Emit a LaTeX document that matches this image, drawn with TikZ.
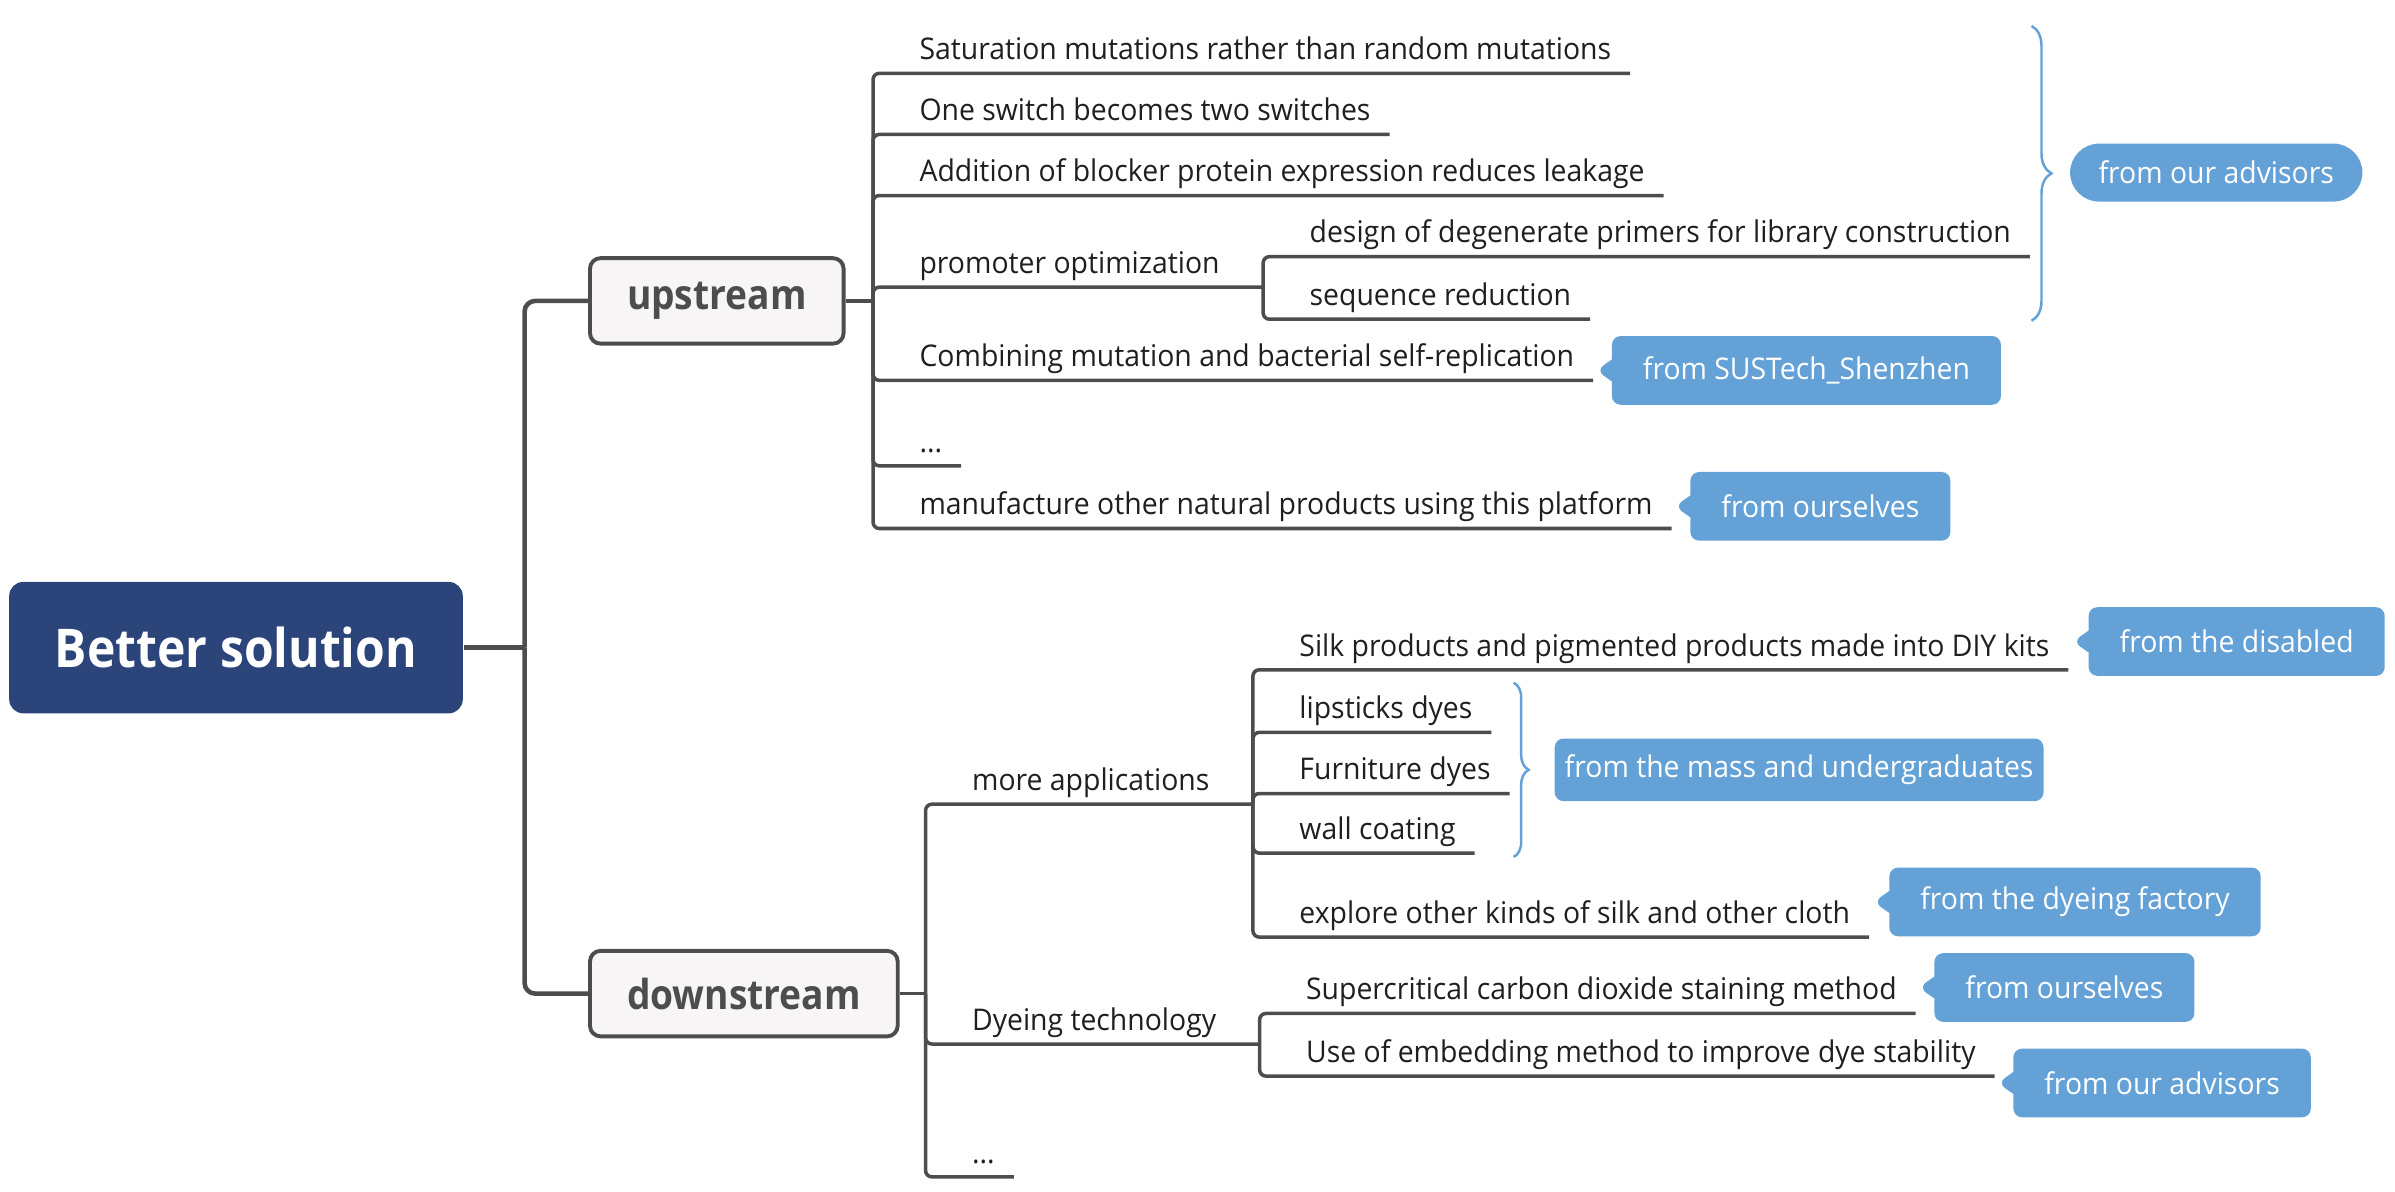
\documentclass[tikz,border=0pt]{standalone}
\usepackage{fontspec}
\setmainfont{Open Sans}[FakeStretch=0.95]
\newfontfamily\boxfont{Open Sans}[FakeStretch=0.9]
\usepackage{tikz}
\usetikzlibrary{positioning,calc,shapes.misc,shapes.callouts,decorations.pathreplacing}

\definecolor{rootblue}{HTML}{2B4479}
\definecolor{linegray}{HTML}{4D4D4D}
\definecolor{boxfill}{HTML}{F7F5F5}
\definecolor{tagblue}{HTML}{64A1D6}
\definecolor{leaftext}{HTML}{1F1F1F}

\tikzset{
  rootbox/.style={fill=rootblue, rounded corners=4pt, text=white, font=\boxfont\fontsize{15.2}{18}\selectfont\bfseries, minimum width=4.536cm, minimum height=1.314cm},
  mainbox/.style={fill=boxfill, draw=linegray, line width=1.1pt, rounded corners=3pt, text=linegray, font=\boxfont\fontsize{11.75}{13}\selectfont\bfseries, inner xsep=0.37cm, minimum height=0.855cm},
  leaf/.style={anchor=base west, inner sep=0pt, text=leaftext, font=\fontsize{8.5}{10}\selectfont},
  branch/.style={draw=linegray, line width=1pt, rounded corners=1.8pt},
  trunk/.style={draw=linegray, line width=1.3pt, rounded corners=3pt},
  tag/.style={rectangle callout, fill=tagblue, text=white, rounded corners=2.5pt, font=\fontsize{8.5}{10}\selectfont, minimum height=0.687cm, inner xsep=0.31cm, callout pointer width=0.22cm},
  pill/.style={rounded rectangle, fill=tagblue, text=white, font=\fontsize{8.5}{10}\selectfont, minimum height=0.58cm, inner xsep=0.26cm},
  flatbox/.style={fill=tagblue, text=white, rounded corners=2.5pt, font=\fontsize{8.5}{10}\selectfont, minimum height=0.626cm, inner xsep=0.1cm},
  bracket/.style={draw=tagblue, line width=0.7pt, decorate, decoration={brace, amplitude=0.2cm}}
}

\begin{document}
\begin{tikzpicture}[x=0.015274cm, y=-0.015274cm]
    \useasboundingbox (0,0) rectangle (1568,780);

    % Main boxes
    \node [rootbox] (root) at (154.5,424) {Better solution};
    \node [mainbox, anchor=west] (up) at (385,197) {upstream};
    \node [mainbox, anchor=west] (down) at (385,650.5) {downstream};
    \coordinate (rootT) at ($(root.east)+(40,0)$);
    \coordinate (upT) at ($(up.east)+(18,0)$);
    \coordinate (downT) at ($(down.east)+(17,0)$);

    % Upstream leaves
    \node [leaf] (u1) at ($(upT)+(30,-158)$) {Saturation mutations rather than random mutations};
    \node [leaf] (u2) at ($(upT)+(30,-118)$) {One switch becomes two switches};
    \node [leaf] (u3) at ($(upT)+(30,-78)$) {Addition of blocker protein expression reduces leakage};
    \node [leaf] (u4) at ($(upT)+(30,-18)$) {promoter optimization};
    \node [leaf] (u5) at ($(upT)+(30,43)$) {Combining mutation and bacterial self-replication};
    \node [leaf] (u6) at ($(upT)+(30,99)$) {...};
    \node [leaf] (u7) at ($(upT)+(30,140)$) {manufacture other natural products using this platform};
    \foreach \n/\ext in {u1/12,u2/12,u3/12,u4/28,u5/12,u6/12,u7/12}
        \coordinate (\n e) at ($(\n.base east)+(\ext,9)$);
    \node [leaf] (u41) at ($(u4e)+(30,-29)$) {design of degenerate primers for library construction};
    \node [leaf] (u42) at ($(u4e)+(30,12)$) {sequence reduction};
    \coordinate (u41e) at ($(u41.base east)+(12,9)$);
    \coordinate (u42e) at ($(u42.base east)+(12,9)$);

    % Downstream leaves
    \node [leaf] (d1) at ($(downT)+(30,-133)$) {more applications};
    \node [leaf] (d2) at ($(downT)+(30,24)$) {Dyeing technology};
    \node [leaf] (d3) at ($(downT)+(30,111)$) {...};
    \foreach \n/\ext in {d1/28,d2/28,d3/12}
        \coordinate (\n e) at ($(\n.base east)+(\ext,9)$);
    \node [leaf] (d11) at ($(d1e)+(30,-97)$) {Silk products and pigmented products made into DIY kits};
    \node [leaf] (d12) at ($(d1e)+(30,-56)$) {lipsticks dyes};
    \node [leaf] (d13) at ($(d1e)+(30,-16)$) {Furniture dyes};
    \node [leaf] (d14) at ($(d1e)+(30,23)$) {wall coating};
    \node [leaf] (d15) at ($(d1e)+(30,78)$) {explore other kinds of silk and other cloth};
    \node [leaf] (d21) at ($(d2e)+(30,-29)$) {Supercritical carbon dioxide staining method};
    \node [leaf] (d22) at ($(d2e)+(30,12)$) {Use of embedding method to improve dye stability};
    \foreach \n in {d11,d12,d13,d14,d15,d21,d22}
        \coordinate (\n e) at ($(\n.base east)+(12,9)$);

    % Connectors
    \draw [trunk] (root.east) -- (rootT);
    \draw [trunk] (rootT) |- (up.west);
    \draw [trunk] (rootT) |- (down.west);
    \draw [branch] (up.east) -- (upT);
    \draw [branch] (down.east) -- (downT);
    \foreach \n in {u1,u2,u3,u4,u5,u6,u7}
        \draw [branch] (upT) |- (\n e);
    \draw [branch] (u4e) |- (u41e);
    \draw [branch] (u4e) |- (u42e);
    \foreach \n in {d1,d2,d3}
        \draw [branch] (downT) |- (\n e);
    \foreach \n in {d11,d12,d13,d14,d15}
        \draw [branch] (d1e) |- (\n e);
    \draw [branch] (d2e) |- (d21e);
    \draw [branch] (d2e) |- (d22e);

    % Braces
    \draw [bracket] (1330,17) -- (1330,210);
    \coordinate (brU) at (1345,113);
    \node [pill, right=0.15cm of brU] (advU) {from our advisors};
    \draw [bracket, decoration={amplitude=0.15cm}] (991,447) -- (991,561);
    \coordinate (brD) at (1003,504);
    \node [flatbox, right=0.22cm of brD] (mass) {from the mass and undergraduates};

    % Tags
    \coordinate (pSus) at ($(u5e)+(2,-6.5)$);
    \node [tag, right=0.15cm of pSus, callout absolute pointer={(pSus)}] (sus) {from SUSTech\_Shenzhen};
    \coordinate (pSelf) at ($(u7e)+(2,-14.5)$);
    \node [tag, right=0.15cm of pSelf, callout absolute pointer={(pSelf)}] (selfU) {from ourselves};
    \coordinate (pDis) at ($(d11e)+(3,-18.5)$);
    \node [tag, right=0.15cm of pDis, callout absolute pointer={(pDis)}] (dis) {from the disabled};
    \coordinate (pFac) at ($(d15e)+(3,-23)$);
    \node [tag, right=0.15cm of pFac, callout absolute pointer={(pFac)}] (fac) {from the dyeing factory};
    \coordinate (pSelfD) at ($(d21e)+(2,-17)$);
    \node [tag, right=0.15cm of pSelfD, callout absolute pointer={(pSelfD)}] (selfD) {from ourselves};
    \coordinate (pAdv) at ($(d22e)+(2,4.5)$);
    \node [tag, right=0.15cm of pAdv, callout absolute pointer={(pAdv)}] (advD) {from our advisors};
\end{tikzpicture}
\end{document}
